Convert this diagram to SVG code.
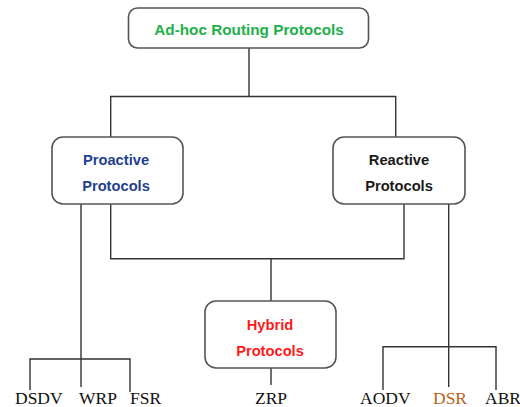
<svg xmlns="http://www.w3.org/2000/svg" width="520" height="407" viewBox="0 0 520 407">
  <style>
    .box { fill: #ffffff; stroke: #555555; stroke-width: 1.6; }
    .link { fill: none; stroke: #333333; stroke-width: 1.4; }
    .lbl { font-family: "Liberation Sans", Arial, sans-serif; font-weight: bold; font-size: 14.7px; text-anchor: middle; }
    .leaf { font-family: "Liberation Serif", "Times New Roman", serif; font-size: 17.5px; fill: #111111; }
  </style>
  <rect width="520" height="407" fill="#ffffff"/>

  <g id="connectors">
    <path class="link" d="M249 48 V96.5 M110.7 137 V96.5 H395.7 V137"/>
    <path class="link" d="M110.7 204 V258.7 H404 V204 M271 258.7 V301"/>
    <path class="link" d="M81 204 V387 M30 390 V359 H130 V392"/>
    <path class="link" d="M448.7 204 V387 M383 390 V346.7 H496 V390"/>
    <path class="link" d="M271 368 V385"/>
  </g>

  <g id="root">
    <rect class="box" x="128.5" y="8" width="240" height="40" rx="9"/>
    <text class="lbl" x="249" y="35" style="fill:#22B04B; font-size:15.3px">Ad-hoc Routing Protocols</text>
  </g>

  <g id="proactive">
    <rect class="box" x="52" y="137" width="131" height="67" rx="11"/>
    <text class="lbl" x="116" y="165" fill="#1F3F8F">Proactive</text>
    <text class="lbl" x="116" y="191" fill="#1F3F8F">Protocols</text>
  </g>

  <g id="reactive">
    <rect class="box" x="333" y="137" width="132" height="67" rx="11"/>
    <text class="lbl" x="399" y="165" fill="#1a1a1a">Reactive</text>
    <text class="lbl" x="399" y="191" fill="#1a1a1a">Protocols</text>
  </g>

  <g id="hybrid">
    <rect class="box" x="205" y="301" width="131" height="67" rx="11"/>
    <text class="lbl" x="270" y="330" fill="#FF1A1A">Hybrid</text>
    <text class="lbl" x="270" y="356" fill="#FF1A1A">Protocols</text>
  </g>

  <g id="leaves">
    <text class="leaf" x="15" y="404">DSDV</text>
    <text class="leaf" x="79" y="404">WRP</text>
    <text class="leaf" x="130" y="404">FSR</text>
    <text class="leaf" x="255" y="404">ZRP</text>
    <text class="leaf" x="360" y="404">AODV</text>
    <text class="leaf" x="433" y="404" style="fill:#B8621B">DSR</text>
    <text class="leaf" x="485" y="404">ABR</text>
  </g>
</svg>
